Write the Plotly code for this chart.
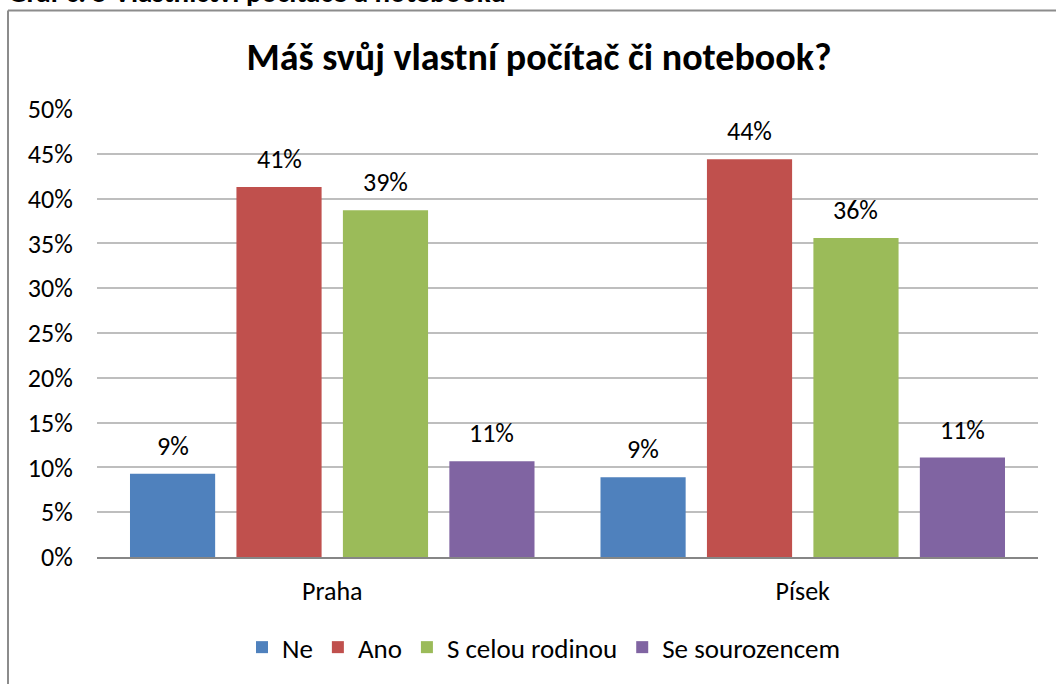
import plotly.graph_objects as go

categories = ["Praha", "Písek"]
series_names = ["Ne", "Ano", "S celou rodinou", "Se sourozencem"]
ne = [0.093, 0.089]
ano = [0.413, 0.444]
rodina = [0.387, 0.356]
sourozenec = [0.107, 0.111]
series_values = [ne, ano, rodina, sourozenec]
colors = ["#4F81BD", "#C0504D", "#9BBB59", "#8064A2"]
y_ticks = [i / 100 for i in range(0, 51, 5)]

title_text = "Máš svůj vlastní počítač či notebook?"
caption_text = "Graf č. 5 Vlastnictví počítače a notebooku"

FONT = "Carlito, Calibri, Lato, sans-serif"
FS = 26
W, H = 1056, 684
ML, MR, MT, MB = 97, 18, 109, 125
PW, PH = W - ML - MR, H - MT - MB
BARGAP = 0.095
BARGROUPGAP = 0.2


def px_x(p):
    return (p - ML) / PW


def px_y(p):
    return (H - MB - p) / PH


fig = go.Figure()
for name, vals, col in zip(series_names, series_values, colors):
    fig.add_trace(go.Bar(x=categories, y=vals, name=name, marker_color=col,
                         marker_line_width=0))

# data labels placed through the axis scale
n = len(series_names)
slot = (1 - BARGAP) / n
annotations = []
for j, vals in enumerate(series_values):
    for i, v in enumerate(vals):
        annotations.append(dict(
            x=i + (j - (n - 1) / 2) * slot, y=v, xref="x", yref="y",
            text=f"{round(v * 100):.0f}%", showarrow=False,
            yanchor="bottom", yshift=10,
            font=dict(family=FONT, size=FS, color="#000000")))

annotations.append(dict(
    x=px_x(6), y=px_y(11.5),
    xref="paper", yref="paper", xanchor="left", yanchor="bottom",
    text=f"<b>{caption_text}</b>", showarrow=False,
    font=dict(family=FONT, size=29, color="#000000")))

fig.update_layout(
    width=W, height=H,
    margin=dict(l=ML, r=MR, t=MT, b=MB),
    paper_bgcolor="white", plot_bgcolor="white",
    barmode="group", bargap=BARGAP, bargroupgap=BARGROUPGAP,
    title=dict(text=f"<b>{title_text}</b>", x=539 / W, xanchor="center",
               y=1 - 57 / H, yanchor="middle",
               font=dict(family=FONT, size=38, color="#000000")),
    font=dict(family=FONT, size=FS, color="#000000"),
    showlegend=True,
    legend=dict(orientation="h", x=px_x(544), xanchor="center",
                y=px_y(650), yanchor="middle",
                font=dict(family=FONT, size=27, color="#000000")),
    annotations=annotations,
    shapes=[
        dict(type="line", xref="paper", yref="paper",
             x0=px_x(8), x1=px_x(W + 5), y0=px_y(10), y1=px_y(10),
             line=dict(color="#8C8C8C", width=2)),
        dict(type="line", xref="paper", yref="paper",
             x0=px_x(8), x1=px_x(8), y0=px_y(10), y1=px_y(H + 5),
             line=dict(color="#8C8C8C", width=2)),
    ],
)
fig.update_xaxes(showgrid=False, showline=True, linecolor="#868686", linewidth=2,
                 ticks="outside", ticklen=10, tickcolor="rgba(0,0,0,0)",
                 tickfont=dict(family=FONT, size=FS, color="#000000"))
fig.update_yaxes(range=[0, 0.5], tickvals=y_ticks, tickformat=".0%",
                 showgrid=True, gridcolor="#BEBEBE", gridwidth=1.5,
                 zeroline=False, showline=False,
                 ticks="outside", ticklen=18, tickcolor="rgba(0,0,0,0)",
                 tickfont=dict(family=FONT, size=FS, color="#000000"))

fig.write_html("out.html", config={"displayModeBar": False},
               post_script="document.body.style.margin='0';document.body.style.overflow='hidden';")
